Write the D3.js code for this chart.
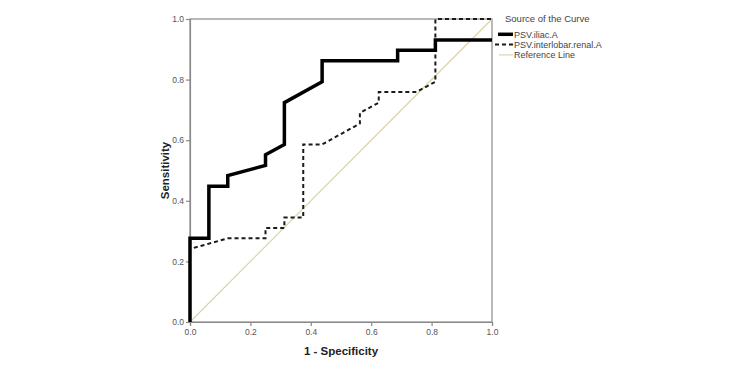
<!DOCTYPE html>
<html>
<head>
<meta charset="utf-8">
<script src="https://cdn.jsdelivr.net/npm/d3@7"></script>
<style>
  html, body { margin: 0; padding: 0; background: #fff; }
  svg { display: block; font-family: Arial, "Liberation Sans", sans-serif; }
</style>
</head>
<body>
<svg id="chart" width="750" height="375"></svg>
<script>
// ---- data ----
const xTicks = [0, 0.2, 0.4, 0.6, 0.8, 1.0];
const yTicks = [0, 0.2, 0.4, 0.6, 0.8, 1.0];

const iliacX = [0, 0, 0.0625, 0.0625, 0.125, 0.125, 0.25, 0.25, 0.3125, 0.3125, 0.4375, 0.4375, 0.6875, 0.6875, 0.8125, 0.8125, 1.0];
const iliacY = [0, 0.276, 0.276, 0.448, 0.448, 0.483, 0.517, 0.552, 0.586, 0.724, 0.793, 0.862, 0.862, 0.897, 0.897, 0.931, 0.931];

const renalX = [0, 0, 0.125, 0.25, 0.25, 0.3125, 0.3125, 0.375, 0.375, 0.4375, 0.5625, 0.5625, 0.625, 0.625, 0.75, 0.8125, 0.8125, 1.0];
const renalY = [0, 0.241, 0.276, 0.276, 0.310, 0.310, 0.345, 0.345, 0.586, 0.586, 0.655, 0.690, 0.724, 0.759, 0.759, 0.793, 1.0, 1.0];

const refX = [0, 1];
const refY = [0, 1];

const legendTitle = "Source of the Curve";
const seriesNames = ["PSV.iliac.A", "PSV.interlobar.renal.A", "Reference Line"];
const xTitle = "1 - Specificity";
const yTitle = "Sensitivity";

// ---- layout ----
const svg = d3.select("#chart");
const L = 190, R = 492, T = 19, B = 322;
const x = d3.scaleLinear().domain([0, 1]).range([L, R]);
const y = d3.scaleLinear().domain([0, 1]).range([B, T]);

const axisColor = "#8a8a8a";
const textColor = "#555";

// frame
svg.append("rect").attr("x", L).attr("y", T).attr("width", R - L).attr("height", B - T)
  .attr("fill", "none").attr("stroke", axisColor).attr("stroke-width", 1.2);

// axes
const xAxis = svg.append("g").attr("transform", `translate(0,${B})`)
  .call(d3.axisBottom(x).tickValues(xTicks).tickFormat(d3.format(".1f")).tickSize(4).tickPadding(3));
const yAxis = svg.append("g").attr("transform", `translate(${L},0)`)
  .call(d3.axisLeft(y).tickValues(yTicks).tickFormat(d3.format(".1f")).tickSize(4).tickPadding(2));
[xAxis, yAxis].forEach(g => {
  g.select(".domain").attr("stroke", axisColor).attr("stroke-width", 1.2);
  g.selectAll(".tick line").attr("stroke", axisColor).attr("stroke-width", 1.2);
  g.selectAll(".tick text").attr("fill", textColor).style("font-size", "8.5px")
    .style("font-family", "Arial, 'Liberation Sans', sans-serif");
});

// lines
const line = d3.line().x(d => x(d[0])).y(d => y(d[1]));
const zip = (a, b) => a.map((v, i) => [v, b[i]]);

svg.append("path").datum(zip(refX, refY)).attr("d", line)
  .attr("fill", "none").attr("stroke", "#d6d1a6").attr("stroke-width", 1.1);

svg.append("path").datum(zip(renalX, renalY)).attr("d", line)
  .attr("fill", "none").attr("stroke", "#1a1a1a").attr("stroke-width", 2)
  .attr("stroke-dasharray", "4,3");

svg.append("path").datum(zip(iliacX, iliacY)).attr("d", line)
  .attr("fill", "none").attr("stroke", "#000").attr("stroke-width", 3.5)
  .attr("stroke-linejoin", "miter");

// axis titles
svg.append("text").attr("x", (L + R) / 2).attr("y", 355).attr("text-anchor", "middle")
  .style("font-size", "11.5px").style("font-weight", "bold").attr("fill", "#222").text(xTitle);
svg.append("text").attr("transform", `translate(169,${(T + B) / 2}) rotate(-90)`)
  .attr("text-anchor", "middle")
  .style("font-size", "11.5px").style("font-weight", "bold").attr("fill", "#222").text(yTitle);

// legend
const lg = svg.append("g");
lg.append("text").attr("x", 505).attr("y", 22).style("font-size", "9.5px").attr("fill", "#444").text(legendTitle);
const styles = [
  { w: 3.5, dash: null, color: "#000", x1: 498 },
  { w: 2, dash: "4,3", color: "#1a1a1a", x1: 495 },
  { w: 1.1, dash: null, color: "#d6d1a6", x1: 499 }
];
seriesNames.forEach((name, i) => {
  const yy = 34.3 + i * 10.3;
  const l = lg.append("line").attr("x1", styles[i].x1).attr("x2", 513).attr("y1", yy).attr("y2", yy)
    .attr("stroke", styles[i].color).attr("stroke-width", styles[i].w);
  if (styles[i].dash) l.attr("stroke-dasharray", styles[i].dash);
  lg.append("text").attr("x", 514).attr("y", yy + 3.2).style("font-size", "9px").attr("fill", "#444").text(name);
});
</script>
</body>
</html>
